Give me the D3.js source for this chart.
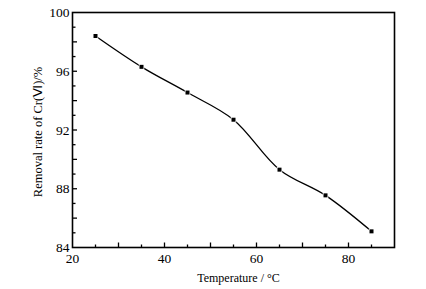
<!DOCTYPE html>
<html>
<head>
<meta charset="utf-8">
<script src="https://cdn.jsdelivr.net/npm/d3@7"></script>
<style>
  body { margin: 0; background: #fff; }
  text { font-family: "Liberation Serif", "Times New Roman", serif; fill: #000; }
</style>
</head>
<body>
<div id="my_dataviz"></div>
<script>
// data
var temperature = [25, 35, 45, 55, 65, 75, 85];
var removalRate = [98.4, 96.3, 94.55, 92.7, 89.3, 87.55, 85.1];
var xTickLabels = [20, 40, 60, 80];
var yTickLabels = [84, 88, 92, 96, 100];

var margin = { top: 12.5, right: 31.5, bottom: 41.5, left: 72.5 },
    width = 426 - margin.left - margin.right,
    height = 289 - margin.top - margin.bottom;

var svg = d3.select("#my_dataviz")
    .append("svg")
    .attr("width", 426)
    .attr("height", 289)
    .append("g")
    .attr("transform", "translate(" + margin.left + "," + margin.top + ")");

var x = d3.scaleLinear().domain([20, 90]).range([0, width]);
var y = d3.scaleLinear().domain([84, 100]).range([height, 0]);

// frame
svg.append("rect")
    .attr("width", width)
    .attr("height", height)
    .attr("fill", "none")
    .attr("stroke", "#000")
    .attr("stroke-width", 1.6);

// x ticks (inward), minor every 5
var xt = svg.append("g").attr("transform", "translate(0," + height + ")");
xt.selectAll("line")
    .data(d3.range(25, 90, 5))
    .enter().append("line")
    .attr("x1", function (d) { return x(d); })
    .attr("x2", function (d) { return x(d); })
    .attr("y1", 0)
    .attr("y2", function (d) { return d % 10 === 0 ? -5 : -3; })
    .attr("stroke", "#000")
    .attr("stroke-width", 1.3);
xt.selectAll("text")
    .data(xTickLabels)
    .enter().append("text")
    .attr("x", function (d) { return x(d); })
    .attr("y", 15)
    .attr("text-anchor", "middle")
    .style("font-size", "13.5px")
    .text(function (d) { return d; });

// y ticks (inward), every 1
var yt = svg.append("g");
yt.selectAll("line")
    .data(d3.range(85, 100, 1))
    .enter().append("line")
    .attr("x1", 0)
    .attr("x2", function (d) { return d % 2 === 0 ? 4.5 : 3; })
    .attr("y1", function (d) { return y(d); })
    .attr("y2", function (d) { return y(d); })
    .attr("stroke", "#000")
    .attr("stroke-width", 1.3);
yt.selectAll("text")
    .data(yTickLabels)
    .enter().append("text")
    .attr("x", -3)
    .attr("y", function (d) { return y(d); })
    .attr("dy", "0.35em")
    .attr("text-anchor", "end")
    .style("font-size", "13.5px")
    .text(function (d) { return d; });

// axis titles
svg.append("text")
    .attr("x", x(55) + 5)
    .attr("y", height + 34)
    .attr("text-anchor", "middle")
    .style("font-size", "12px")
    .text("Temperature / °C");

svg.append("text")
    .attr("transform", "rotate(-90)")
    .attr("x", -(y(92) + 2))
    .attr("y", -31)
    .attr("text-anchor", "middle")
    .style("font-size", "12.5px")
    .text("Removal rate of Cr(Ⅵ)/%");

var data = temperature.map(function (t, i) { return { t: t, r: removalRate[i] }; });

// curve
var line = d3.line()
    .x(function (d) { return x(d.t); })
    .y(function (d) { return y(d.r); })
    .curve(d3.curveCatmullRom.alpha(0.5));

svg.append("path")
    .datum(data)
    .attr("d", line)
    .attr("fill", "none")
    .attr("stroke", "#000")
    .attr("stroke-width", 1.3);

// square markers with a small white halo
svg.selectAll(".pt")
    .data(data)
    .enter().append("rect")
    .attr("class", "pt")
    .attr("x", function (d) { return x(d.t) - 2; })
    .attr("y", function (d) { return y(d.r) - 2; })
    .attr("width", 4)
    .attr("height", 4)
    .attr("fill", "#000")
    .attr("stroke", "#fff")
    .attr("stroke-width", 1.5)
    .attr("paint-order", "stroke");
</script>
</body>
</html>
